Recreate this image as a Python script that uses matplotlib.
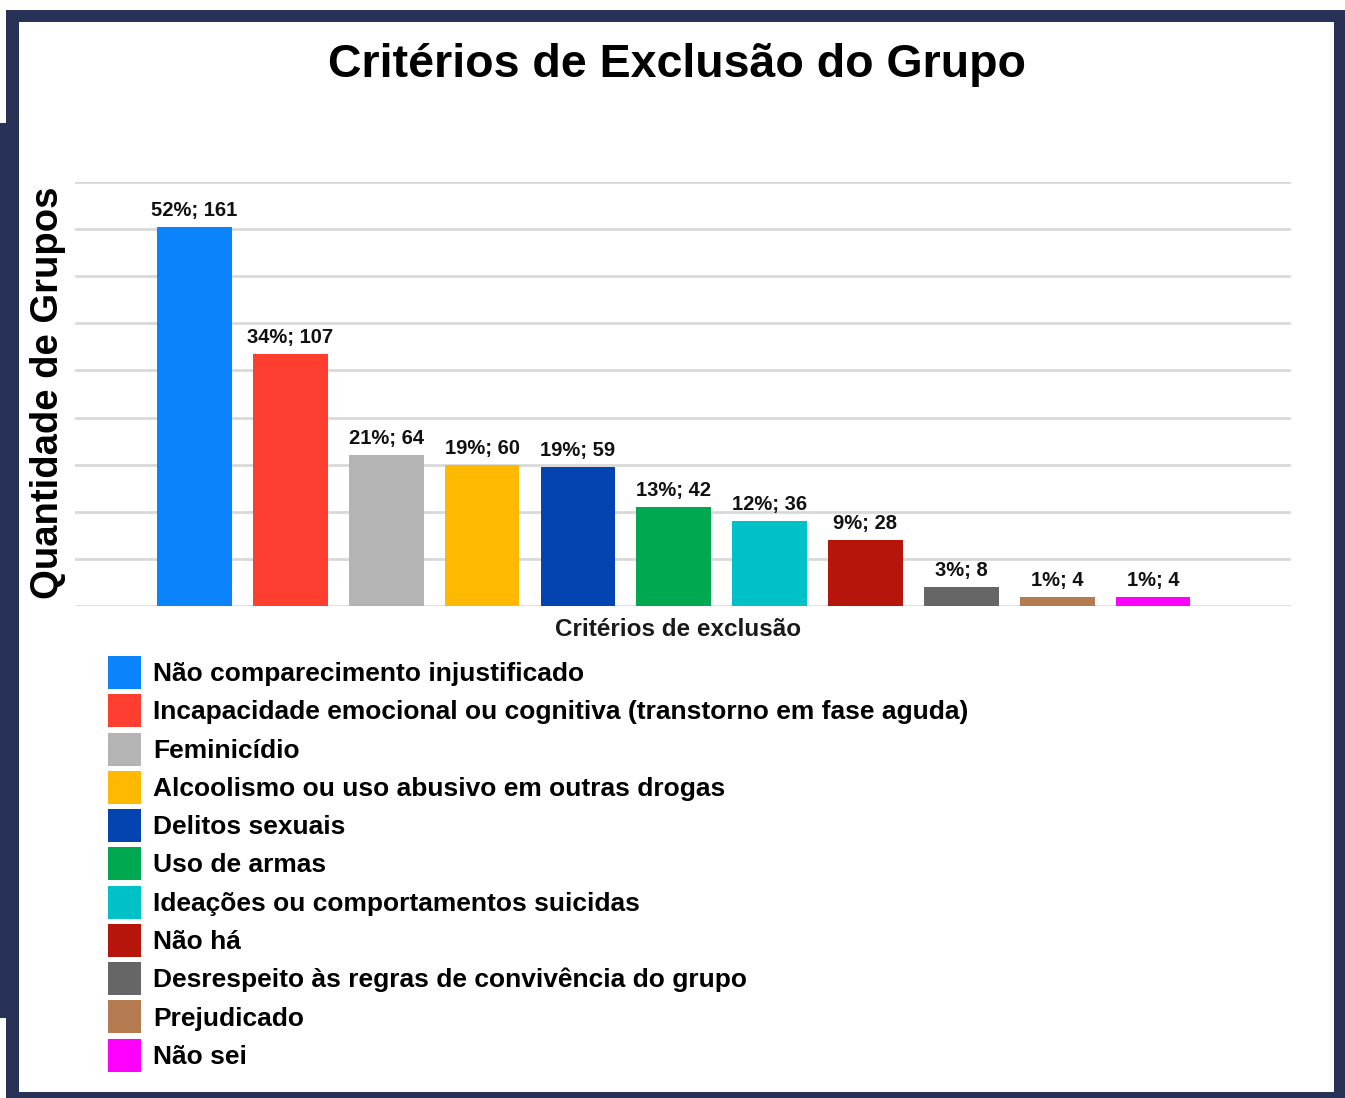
import matplotlib
matplotlib.use("Agg")
import matplotlib.pyplot as plt
from matplotlib.patches import Rectangle, Patch

plt.rcParams['font.family'] = ['Liberation Sans', 'DejaVu Sans']

# dados do grafico
criterios = [
    "Não comparecimento injustificado",
    "Incapacidade emocional ou cognitiva (transtorno em fase aguda)",
    "Feminicídio",
    "Alcoolismo ou uso abusivo em outras drogas",
    "Delitos sexuais",
    "Uso de armas",
    "Ideações ou comportamentos suicidas",
    "Não há",
    "Desrespeito às regras de convivência do grupo",
    "Prejudicado",
    "Não sei",
]
quantidades = [161, 107, 64, 60, 59, 42, 36, 28, 8, 4, 4]
percentuais = [52, 34, 21, 19, 19, 13, 12, 9, 3, 1, 1]
cores = ["#0b84fb", "#fd3e30", "#b4b4b4", "#ffb900", "#0444b0", "#00a84f",
         "#00c0c8", "#b5150a", "#666666", "#b47a50", "#ff00ff"]

W, H = 1345, 1098
fig = plt.figure(figsize=(W / 100, H / 100), dpi=100)

# moldura azul escura
bg = fig.add_axes([0, 0, 1, 1], zorder=-10)
bg.set_xlim(0, W)
bg.set_ylim(H, 0)
bg.axis("off")
navy = "#283257"
bg.add_patch(Rectangle((6, 10), W - 6, H - 10, color=navy, lw=0))
bg.add_patch(Rectangle((0, 123), 19, 895, color=navy, lw=0))
bg.add_patch(Rectangle((19, 22), 1315, 1070, color="white", lw=0))

ax = fig.add_axes([75 / W, 1 - 606 / H, 1216 / W, 424 / H])
x = list(range(len(quantidades)))
barras = ax.bar(x, quantidades, width=0.78, color=cores, zorder=3)
ax.bar_label(barras, labels=[f"{p}%; {q}" for p, q in zip(percentuais, quantidades)],
             padding=5, fontsize=14.5, fontweight="bold", color="#111111")

ax.set_xlim(-1.247, 11.44)
ax.set_ylim(0, 180)
ax.set_yticks(range(0, 181, 20))
ax.set_xticks([])
ax.tick_params(axis="y", length=0, labelleft=False)
ax.grid(axis="y", color="#d9d9d9", lw=2, zorder=0)
for s in ax.spines.values():
    s.set_visible(False)
ax.patch.set_alpha(0)

fig.text(677 / W, 1 - 77 / H, "Critérios de Exclusão do Grupo",
         ha="center", va="baseline", fontsize=33.5, fontweight="bold")
fig.text(48 / W, 1 - 393 / H, "Quantidade de Grupos", rotation=90,
         ha="center", va="center", fontsize=27.5, fontweight="bold")
fig.text(678 / W, 1 - 629 / H, "Critérios de exclusão",
         ha="center", va="center", fontsize=17.5, fontweight="bold", color="#1a1a1a")

handles = [Patch(facecolor=c, edgecolor="none") for c in cores]
fig.legend(handles, criterios, loc="upper left",
           bbox_to_anchor=(108 / W, 1 - 656 / H), borderaxespad=0, borderpad=0,
           frameon=False, handlelength=1.25, handleheight=1.546,
           handletextpad=0.45, labelspacing=0.2,
           prop={"weight": "bold", "size": 19})

fig.savefig("out.png", dpi=100)
